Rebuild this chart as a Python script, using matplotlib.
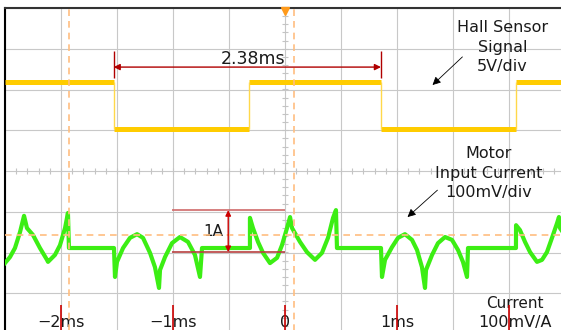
import numpy as np
import matplotlib
matplotlib.use("Agg")
import matplotlib.pyplot as plt

# horizontal axis in ms (0.5 ms/div), vertical axis in screen divisions
hall_edges = [-2.5, -1.53, -0.32, 0.857, 2.062, 2.5]
hall_levels = [2.18, 1.04, 2.18, 1.04, 2.18]

cur_t = [-2.500, -2.455, -2.411, -2.366, -2.330, -2.304, -2.250, -2.188, -2.125, -2.116,
         -2.054, -2.009, -1.964, -1.938, -1.929,
         -1.527,
         -1.518, -1.500, -1.446, -1.384, -1.321, -1.268, -1.205, -1.161, -1.125,
         -1.116, -1.071, -1.009, -0.938, -0.866, -0.804, -0.759, -0.741,
         -0.313,
         -0.313, -0.286, -0.241, -0.196, -0.134, -0.071, -0.027, 0.018, 0.045,
         0.063, 0.134, 0.196, 0.268, 0.330, 0.384, 0.429, 0.455, 0.464,
         0.857,
         0.866, 0.893, 0.955, 1.009, 1.071, 1.134, 1.179, 1.223, 1.250,
         1.259, 1.313, 1.366, 1.429, 1.491, 1.545, 1.589, 1.625, 1.634,
         2.062,
         2.063, 2.098, 2.143, 2.188, 2.250, 2.295, 2.339, 2.384, 2.429, 2.446,
         2.455, 2.473]
cur_v = [-2.26, -2.11, -1.89, -1.50, -1.10, -1.40, -1.57, -1.89, -2.18, -2.23,
         -2.06, -1.82, -1.40, -1.03, -1.89,
         -1.89,
         -2.60, -2.23, -1.89, -1.64, -1.55, -1.64, -2.01, -2.36, -2.87,
         -2.43, -2.11, -1.77, -1.62, -1.74, -2.06, -2.60, -1.89,
         -1.89,
         -1.15, -1.40, -1.74, -2.01, -2.26, -2.13, -1.82, -1.40, -1.13,
         -1.40, -1.74, -1.99, -2.18, -2.01, -1.64, -1.15, -0.96, -1.89,
         -1.89,
         -2.60, -2.18, -1.87, -1.64, -1.55, -1.69, -1.94, -2.36, -2.87,
         -2.43, -2.06, -1.77, -1.62, -1.69, -1.94, -2.23, -2.60, -1.89,
         -1.89,
         -1.33, -1.45, -1.74, -1.99, -2.23, -2.18, -1.99, -1.64, -1.28, -1.13,
         -1.40, -1.47]

marker_ms = [-2, -1, 0, 1, 2]
marker_labels = ["\u22122ms", "\u22121ms", "0", "1ms"]
cursor_t = [-1.93, 0.08]
cursor_v = -1.57
period_ms = 2.38
amp_top, amp_bottom = -0.96, -1.99

fig = plt.figure(figsize=(5.61, 3.30), dpi=100)
ax = fig.add_axes([5 / 561, -4 / 330, 560 / 561, 326 / 330])
ax.set_xlim(-2.5, 2.5)
ax.set_ylim(-4, 4)
ax.set_xticks(np.arange(-2.5, 2.51, 0.5))
ax.set_yticks(np.arange(-4, 4.1, 1))
ax.grid(color="#c8c8c8", lw=0.8)
ax.tick_params(length=0, labelbottom=False, labelleft=False)
for side in ["right", "bottom"]:
    ax.spines[side].set_visible(False)
ax.spines["left"].set_color("black")
ax.spines["left"].set_linewidth(1.5)
ax.spines["top"].set_color("#333333")
ax.spines["top"].set_linewidth(1.5)

# small ticks on the centre lines
ys = np.arange(-4, 4.01, 0.2)
ax.plot(np.zeros(len(ys)), ys, ls="none", marker="_", ms=5, mew=0.8, color="#c4c4c4")
xs = np.arange(-2.5, 2.51, 0.1)
ax.plot(xs, np.zeros(len(xs)), ls="none", marker="|", ms=5, mew=0.8, color="#c4c4c4")

# hall sensor trace
ax.hlines(hall_levels, hall_edges[:-1], hall_edges[1:], color="#ffcc00", lw=3.6, zorder=3)
ax.vlines(hall_edges[1:-1], min(hall_levels), max(hall_levels), color="#ffd84a", lw=1.0, zorder=3)

# motor current trace
ax.plot(cur_t, cur_v, color="#3cee14", lw=3.0, zorder=3, solid_joinstyle="round")

# cursors
for t in cursor_t:
    ax.axvline(t, color="#ffbe80", lw=1.2, ls=(0, (4, 3)), zorder=4)
ax.axhline(cursor_v, color="#ffbe80", lw=1.2, ls=(0, (4, 3)), zorder=4)
ax.plot([0], [3.93], marker="v", ms=6, color="#ff9a1a", clip_on=False, zorder=5)

# period measurement
red = "#b00000"
t0, t1 = hall_edges[1], hall_edges[3]
ax.vlines([t0, t1], 2.28, 2.94, color=red, lw=1.0, zorder=5)
ax.annotate("", xy=(t1, 2.55), xytext=(t0, 2.55),
            arrowprops=dict(arrowstyle="<|-|>", color=red, lw=1.0,
                            mutation_scale=9, shrinkA=0, shrinkB=0), zorder=5)
ax.text(-0.285, 2.63, f"{period_ms:.2f}ms", ha="center", va="baseline",
        fontsize=12.5, color="#1a1a1a")

# amplitude measurement
ax.hlines(amp_top, -1.005, 0.0, color="#d06a6a", lw=1.2, zorder=5)
ax.hlines(amp_bottom, -1.005, 0.0, color="#b84040", lw=1.2, zorder=5)
ax.annotate("", xy=(-0.507, amp_bottom), xytext=(-0.507, amp_top),
            arrowprops=dict(arrowstyle="<|-|>", color="#cc0000", lw=1.0,
                            mutation_scale=8, shrinkA=0, shrinkB=0), zorder=5)
ax.text(-0.552, -1.60, "1A", ha="right", va="baseline", fontsize=11, color="#1a1a1a")

# labels for the traces
for txt, y in [("Hall Sensor", 3.41), ("Signal", 2.92), ("5V/div", 2.45)]:
    ax.text(1.94, y, txt, ha="center", va="baseline", fontsize=11.5, color="#1a1a1a")
ax.annotate("", xy=(1.317, 2.11), xytext=(1.584, 2.80),
            arrowprops=dict(arrowstyle="-|>", color="black", lw=0.6,
                            mutation_scale=12, shrinkA=0, shrinkB=0))
for txt, y in [("Motor", 0.32), ("Input Current", -0.17), ("100mV/div", -0.64)]:
    ax.text(1.82, y, txt, ha="center", va="baseline", fontsize=11.5, color="#1a1a1a")
ax.annotate("", xy=(1.094, -1.13), xytext=(1.361, -0.47),
            arrowprops=dict(arrowstyle="-|>", color="black", lw=0.6,
                            mutation_scale=12, shrinkA=0, shrinkB=0))

# time markers along the bottom
for m, lab in zip(marker_ms, marker_labels):
    ax.text(m, -3.83, lab, ha="center", va="baseline", fontsize=11.5, color="#1a1a1a")
ax.vlines(marker_ms, -4, -3.29, color="#cc0000", lw=1.2, zorder=5)
ax.text(2.055, -3.36, "Current", ha="center", va="baseline", fontsize=11, color="#1a1a1a")
ax.text(2.055, -3.83, "100mV/A", ha="center", va="baseline", fontsize=11.5, color="#1a1a1a")

fig.savefig("out.png", dpi=100)
